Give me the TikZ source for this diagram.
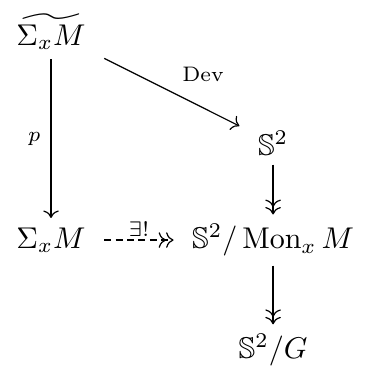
\documentclass[tikz,border=0pt]{standalone}
\usepackage{amsmath}
\usepackage{amssymb}
\usetikzlibrary{arrows.meta}

\begin{document}
\begin{tikzpicture}[x=1pt,y=1pt,>={To},
  lbl/.style={font=\scriptsize},
  obj/.style={inner xsep=6pt,inner ysep=3pt}]
  \useasboundingbox (0,0) rectangle (121.3,125.3);
  % objetos
  \node[obj] (cover) at (17,114.7){$\widetilde{\Sigma_x M}$};
  \node[obj] (sph) at (91,77.7){$\mathbb{S}^2$};
  \node[obj] (surf) at (17,45.3){$\Sigma_x M$};
  \node[obj] (quot) at (91,45.3){$\mathbb{S}^2/\operatorname{Mon}_x M$};
  \node[obj] (orb) at (91,8.7){$\mathbb{S}^2/G$};
  % flechas
  \draw[->] (cover)--(surf) node[midway,left,lbl]{$p$};
  \draw[->] (cover)--(sph) node[midway,above right,lbl]{Dev};
  \draw[->>] (sph)--(quot);
  \draw[->>] (quot)--(orb);
  \draw[->>,dash pattern=on 2.3pt off 1.5pt] (surf)--(quot)
    node[midway,above,lbl,inner sep=1pt]{$\exists!$};
\end{tikzpicture}
\end{document}
